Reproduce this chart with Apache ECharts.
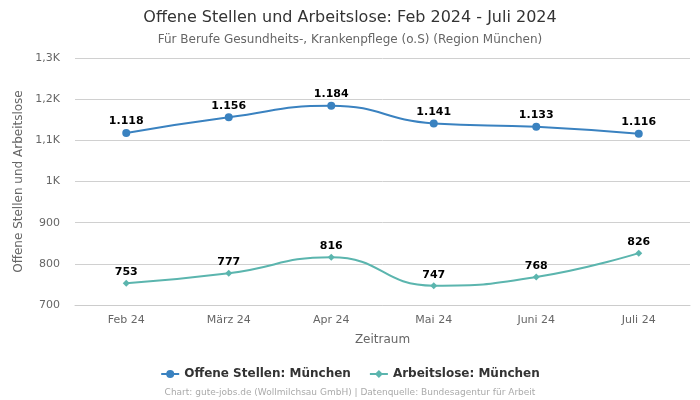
<!DOCTYPE html>
<html><head><meta charset="utf-8">
<script src="https://cdn.jsdelivr.net/npm/echarts@6/dist/echarts.min.js"></script>
<style>html,body{margin:0;padding:0;background:#fff}#c{width:700px;height:400px}</style>
</head><body><div id="c"></div>
<script>
const categories = ["Feb 24", "März 24", "Apr 24", "Mai 24", "Juni 24", "Juli 24"];
const offeneStellen = [1118, 1156, 1184, 1141, 1133, 1116];
const arbeitslose = [753, 777, 816, 747, 768, 826];
const seriesNames = ["Offene Stellen: München", "Arbeitslose: München"];

const F = "DejaVu Sans";
function fmtDE(v){ return String(v).replace(/\B(?=(\d{3})+(?!\d))/g, "."); }
function fmtAxis(v){
  if (v >= 1000) { return (v/1000).toString().replace(".", ",") + "K"; }
  return String(v);
}
const chart = echarts.init(document.getElementById('c'));
chart.setOption({
  animation:false,
  textStyle:{fontFamily:F},
  title:[
    {text:"Offene Stellen und Arbeitslose: Feb 2024 - Juli 2024", left:"center", top:5,
     textStyle:{fontFamily:F,fontSize:16,fontWeight:"normal",color:"#333"}},
    {text:"Für Berufe Gesundheits-, Krankenpflege (o.S) (Region München)", left:"center", top:29,
     textStyle:{fontFamily:F,fontSize:12,fontWeight:"normal",color:"#666"}},
    {text:"Chart: gute-jobs.de (Wollmilchsau GmbH) | Datenquelle: Bundesagentur für Arbeit", left:"center", top:383,
     textStyle:{fontFamily:F,fontSize:9,fontWeight:"normal",color:"#aaa"}}
  ],
  legend:{bottom:15, itemGap:18, itemWidth:18, itemHeight:10,
    textStyle:{fontFamily:F,fontSize:12,fontWeight:"bold",color:"#333"},
    data:seriesNames},
  grid:{left:75,right:10,top:58,bottom:95},
  xAxis:{type:"category",data:categories,boundaryGap:true,
    name:"Zeitraum",nameLocation:"middle",nameGap:29,
    nameTextStyle:{fontFamily:F,fontSize:12,color:"#666"},
    axisLine:{lineStyle:{color:"#ccc"}},axisTick:{show:false},
    axisLabel:{fontFamily:F,fontSize:11,color:"#666",margin:10}},
  yAxis:{type:"value",min:700,max:1300,interval:100,
    name:"Offene Stellen und Arbeitslose",nameLocation:"middle",nameGap:42,
    nameTextStyle:{fontFamily:F,fontSize:12,color:"#666"},
    axisLine:{show:false},axisTick:{show:false},
    splitLine:{lineStyle:{color:"#d0d0d0"}},
    axisLabel:{fontFamily:F,fontSize:11,color:"#666",margin:15,formatter:fmtAxis}},
  series:[
    {name:seriesNames[0],type:"line",smooth:true,data:offeneStellen,
     color:"#3a82c0",symbol:"circle",symbolSize:8,lineStyle:{width:2},
     label:{show:true,position:"top",distance:2,fontFamily:F,fontSize:11,fontWeight:"bold",color:"#000",
       formatter:p=>fmtDE(p.value)}},
    {name:seriesNames[1],type:"line",smooth:true,data:arbeitslose,
     color:"#5bb5ae",symbol:"diamond",symbolSize:7,lineStyle:{width:2},
     label:{show:true,position:"top",distance:2,fontFamily:F,fontSize:11,fontWeight:"bold",color:"#000",
       formatter:p=>fmtDE(p.value)}}
  ]
});
</script></body></html>
